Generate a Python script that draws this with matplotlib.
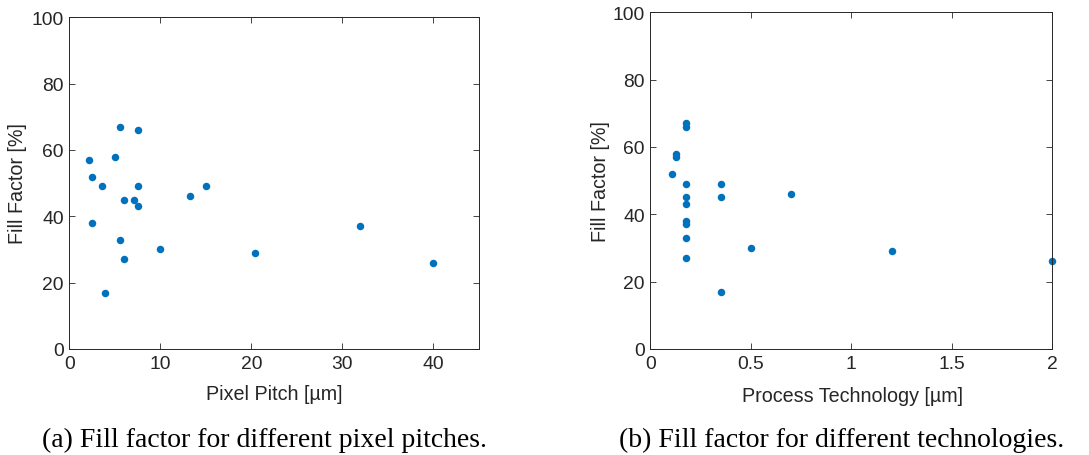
import matplotlib
matplotlib.use("Agg")
import matplotlib.pyplot as plt

# Data (a): pixel pitch vs fill factor
pitch_um = [2.2, 2.5, 3.6, 5.0, 5.6, 7.5, 2.5, 5.6, 6.0, 7.1, 7.5, 7.5, 6.0, 3.9, 10.0, 13.3, 15.0, 20.4, 32.0, 40.0]
pitch_ff = [57, 52, 49, 58, 67, 66, 38, 33, 45, 45, 43, 49, 27, 17, 30, 46, 49, 29, 37, 26]

# Data (b): process technology vs fill factor
tech_um = [0.11, 0.13, 0.13, 0.18, 0.18, 0.18, 0.18, 0.18, 0.18, 0.18, 0.18, 0.18, 0.35, 0.35, 0.35, 0.5, 0.7, 1.2, 2.0]
tech_ff = [52, 58, 57, 67, 66, 49, 45, 43, 38, 37, 33, 27, 49, 45, 17, 30, 46, 29, 26]

x_labels = ["Pixel Pitch [µm]", "Process Technology [µm]"]
y_label = "Fill Factor [%]"
captions = ["(a) Fill factor for different pixel pitches.",
            "(b) Fill factor for different technologies."]

MCOL = "#0072BD"
TXT = "#262626"
sans = ["Liberation Sans", "DejaVu Sans"]
serif = ["Liberation Serif", "DejaVu Serif"]

fig = plt.figure(figsize=(10.89, 4.56), dpi=100)
W, H = 1089, 456

axA = fig.add_axes([69.3 / W, 1 - 350 / H, (478.7 - 69.3) / W, (350 - 18.3) / H])
axB = fig.add_axes([650.3 / W, 1 - 350 / H, (1052.3 - 650.3) / W, (350 - 13.3) / H])

def style(ax, xlim, xticks, xticklabels):
    ax.set_xlim(*xlim)
    ax.set_ylim(0, 100)
    ax.set_xticks(xticks)
    ax.set_xticklabels(xticklabels)
    ax.set_yticks([0, 20, 40, 60, 80, 100])
    ax.tick_params(direction="in", top=True, right=True, length=4, width=0.6,
                   color=TXT, labelcolor=TXT, labelsize=13.9, pad=4)
    for lab in ax.get_xticklabels() + ax.get_yticklabels():
        lab.set_family(sans)
    for s in ax.spines.values():
        s.set_color(TXT)
        s.set_linewidth(0.7)

axA.plot(pitch_um, pitch_ff, "o", color=MCOL, markersize=5.4, markeredgewidth=0, clip_on=False)
style(axA, (0, 45), [0, 10, 20, 30, 40], ["0", "10", "20", "30", "40"])

axB.plot(tech_um, tech_ff, "o", color=MCOL, markersize=5.4, markeredgewidth=0, clip_on=False)
style(axB, (0, 2), [0, 0.5, 1, 1.5, 2], ["0", "0.5", "1", "1.5", "2"])

for ax, xl in zip([axA, axB], x_labels):
    ax.set_xlabel(xl, fontsize=14.2, color=TXT, family=sans, va="center")
    ax.set_ylabel(y_label, fontsize=14.2, color=TXT, family=sans, va="center")

axA.xaxis.set_label_coords((274 - 69.3) / (478.7 - 69.3), -(395 - 350) / (350 - 18.3))
axA.yaxis.set_label_coords(-(69.3 - 18) / (478.7 - 69.3), (350 - 184) / (350 - 18.3))
axB.xaxis.set_label_coords((852.5 - 650.3) / (1052.3 - 650.3), -(397 - 350) / (350 - 13.3))
axB.yaxis.set_label_coords(-(650.3 - 600) / (1052.3 - 650.3), (350 - 182) / (350 - 13.3))

fig.text(264 / W, 1 - 440 / H, captions[0], ha="center", va="center", fontsize=20, family=serif, color="black")
fig.text(842 / W, 1 - 440 / H, captions[1], ha="center", va="center", fontsize=20, family=serif, color="black")

fig.savefig("out.png", dpi=100)
